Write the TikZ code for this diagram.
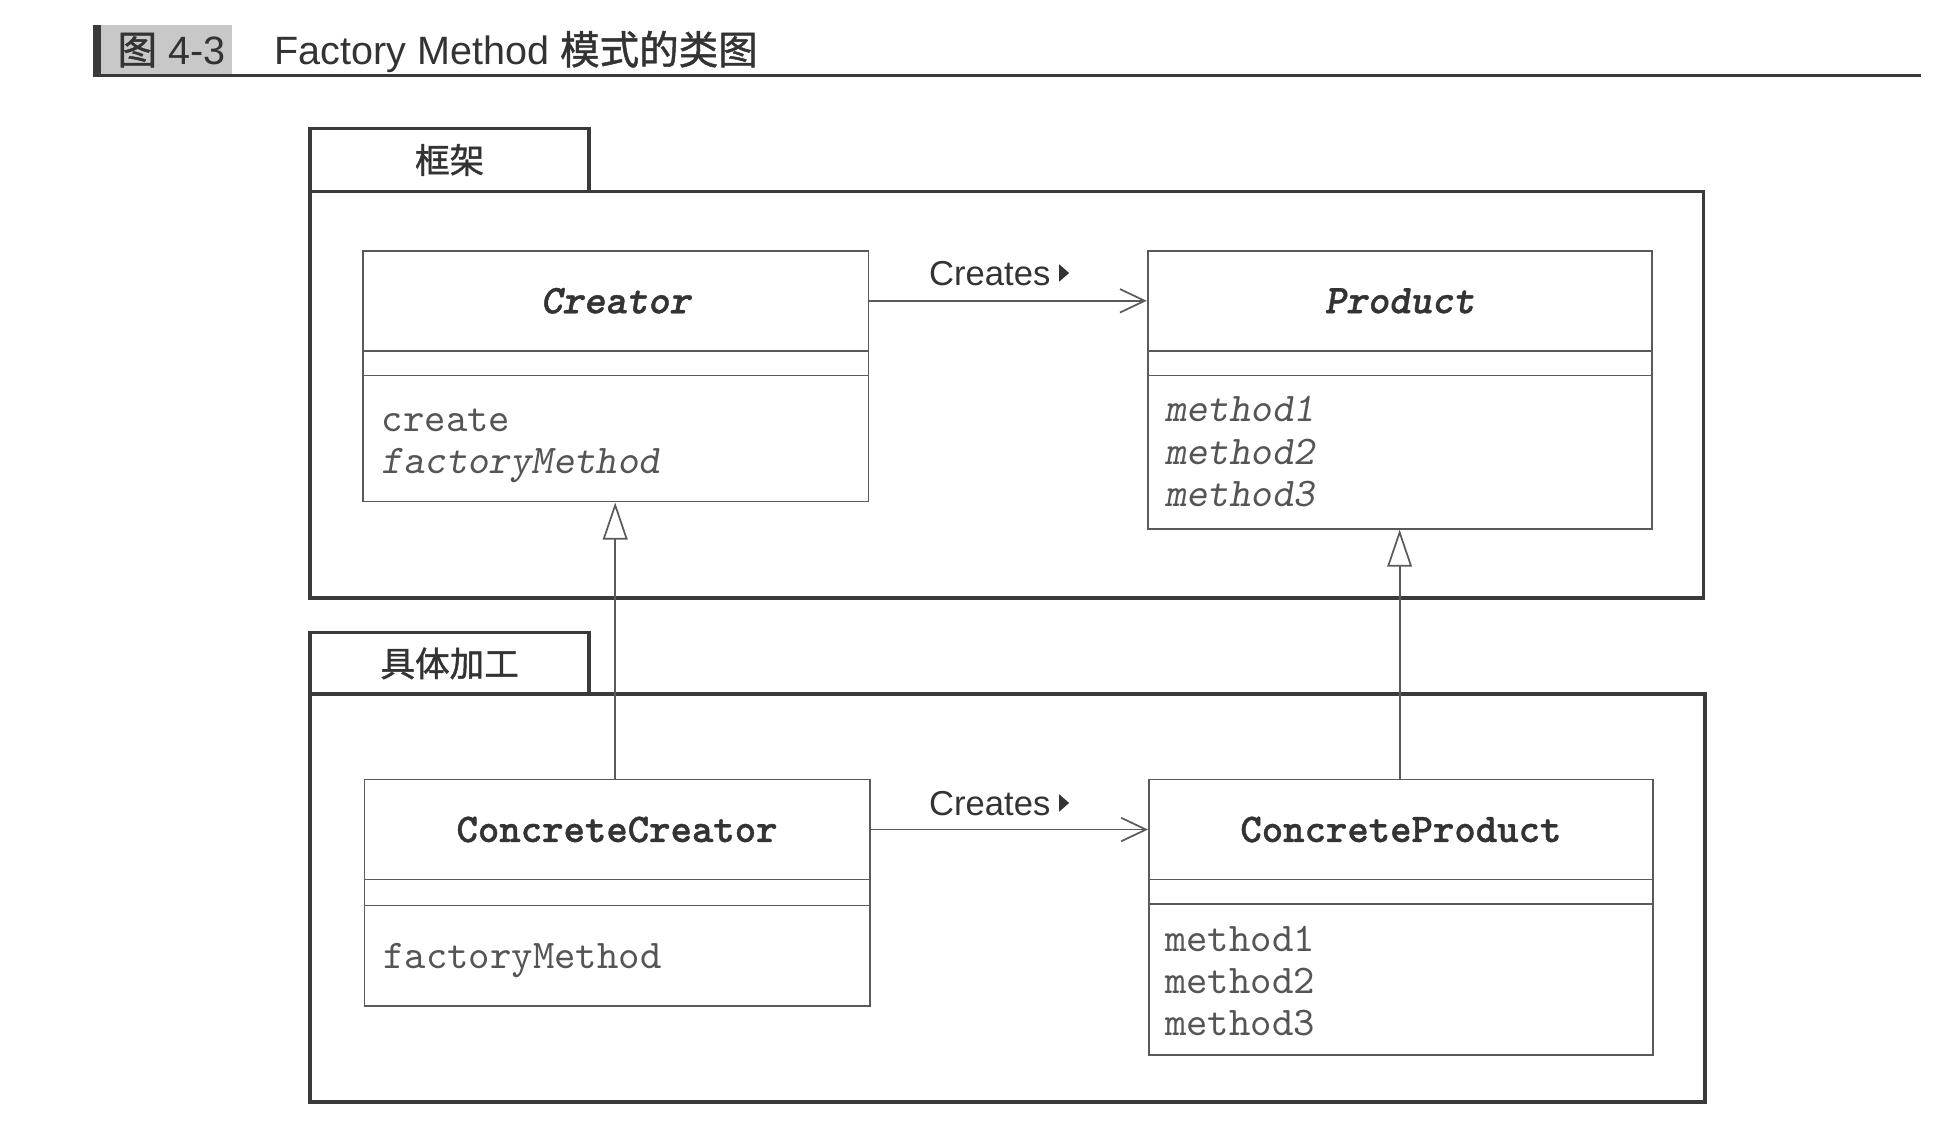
\documentclass[tikz,border=0pt]{standalone}
\usepackage{fontspec}
\setmainfont{Liberation Sans}
\newfontfamily\cjk{Noto Sans CJK SC}
\newfontfamily\cjkm{Noto Sans CJK SC}[FakeBold=1.2]
\newfontfamily\ttreg{lmmono10-regular.otf}
\newfontfamily\ttsl{lmmonoslant10-regular.otf}
\newfontfamily\ttb{lmmonolt10-bold.otf}[FakeBold=1]
\newfontfamily\ttbo{lmmonolt10-boldoblique.otf}[FakeBold=1]
\usetikzlibrary{arrows.meta}
\definecolor{pkgline}{HTML}{3A3A3A}
\definecolor{boxline}{HTML}{5A5A5A}
\definecolor{nametxt}{HTML}{333333}
\definecolor{methtxt}{HTML}{555555}
\definecolor{titlegrey}{HTML}{C8C8C8}
\newcommand{\monosize}{\fontsize{33}{38}\selectfont}
\tikzset{
  pkgbox/.style={draw=pkgline, line width=3pt, inner sep=0pt},
  pkgtab/.style={pkgbox, font=\cjkm\fontsize{28}{32}\selectfont, text=nametxt},
  cpart/.style={draw=boxline, line width=1.5pt, inner sep=0pt},
  cname/.style={cpart, font=\ttb\monosize, text=nametxt},
  cnamei/.style={cpart, font=\ttbo\monosize, text=nametxt},
  meth/.style={font=\ttreg\monosize, text=methtxt, inner sep=0pt, anchor=base west},
  imeth/.style={meth, font=\ttsl\monosize},
  assoc/.style={draw=boxline, line width=1.4pt, -{Straight Barb[length=20pt,width=19pt,line width=1.4pt]}},
  inherit/.style={draw=boxline, line width=1.4pt, -{Triangle[length=30pt,width=20pt,fill=white,line width=1.4pt]}},
  lbl/.style={font=\fontsize{28}{32}\selectfont, text=nametxt, inner sep=0pt, anchor=base west}
}
\begin{document}
\begin{tikzpicture}[x=1pt,y=-1pt]
\useasboundingbox (0,0) rectangle (1568,908.3);
% title
\fill[titlegrey] (80,20) rectangle (188,62);
\fill[pkgline] (75,20) rectangle (82,62);
\draw[pkgline, line width=2pt] (75,61) -- (1555,61);
\node[lbl, font=\fontsize{32}{36}\selectfont] (fignum) at (95,52) {{\cjkm 图} 4-3};
\node[lbl, font=\fontsize{32}{36}\selectfont] (title) at (222,52) {Factory Method {\cjkm 模式的类图}};
% packages
\node[pkgtab, minimum width=226, minimum height=51] (fwtab) at (364,129.5) {框架};
\node[pkgbox, minimum width=1128, minimum height=329] (fw) at (815,319.5) {};
\node[pkgtab, minimum width=226, minimum height=50] (cotab) at (364,537) {具体加工};
\node[pkgbox, minimum width=1129, minimum height=330] (co) at (815.5,727) {};
% Creator
\node[cnamei, minimum width=409, minimum height=81] (crN) at (498.5,243.5) {Creator};
\node[cpart, minimum width=409, minimum height=20] (crA) at (498.5,294) {};
\node[cpart, minimum width=409, minimum height=102] (crM) at (498.5,355) {};
\node[meth] (cr1) at (309,349) {create};
\node[imeth] (cr2) at (309,383) {factoryMethod};
% Product
\node[cnamei, minimum width=408, minimum height=81] (prN) at (1133,243.5) {Product};
\node[cpart, minimum width=408, minimum height=20] (prA) at (1133,294) {};
\node[cpart, minimum width=408, minimum height=124] (prM) at (1133,366) {};
\node[imeth] (pr1) at (943,341) {method1};
\node[imeth] (pr2) at (943,376) {method2};
\node[imeth] (pr3) at (943,410) {method3};
% ConcreteCreator
\node[cname, minimum width=409, minimum height=81] (ccN) at (499.5,671.5) {ConcreteCreator};
\node[cpart, minimum width=409, minimum height=21] (ccA) at (499.5,722.5) {};
\node[cpart, minimum width=409, minimum height=81] (ccM) at (499.5,773.5) {};
\node[meth] (cc1) at (310,784) {factoryMethod};
% ConcreteProduct
\node[cname, minimum width=408, minimum height=81] (cpN) at (1134,671.5) {ConcreteProduct};
\node[cpart, minimum width=408, minimum height=20] (cpA) at (1134,722) {};
\node[cpart, minimum width=408, minimum height=122] (cpM) at (1134,793) {};
\node[meth] (cp1) at (943,770) {method1};
\node[meth] (cp2) at (943,804) {method2};
\node[meth] (cp3) at (943,838) {method3};
% associations
\draw[assoc] (crN.east) -- (prN.west);
\draw[assoc] (ccN.east) -- (cpN.west);
\node[lbl] (crlbl) at (752,231) {Creates};
\node[lbl] (cclbl) at (752,660) {Creates};
\fill[nametxt, shift={(crlbl.base east)}] (7,-3) -- (7,-17) -- (15,-10) -- cycle;
\fill[nametxt, shift={(cclbl.base east)}] (7,-3) -- (7,-17) -- (15,-10) -- cycle;
% inheritance
\draw[inherit] (ccN.north -| 498,0) -- (crM.south -| 498,0);
\draw[inherit] (cpN.north -| 1133,0) -- (prM.south -| 1133,0);
\end{tikzpicture}
\end{document}
